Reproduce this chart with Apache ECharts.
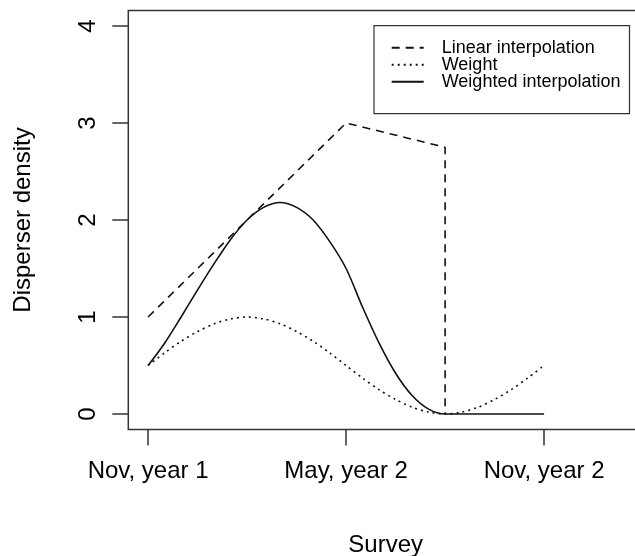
<!DOCTYPE html>
<html>
<head>
<meta charset="utf-8">
<script src="https://cdn.jsdelivr.net/npm/echarts@6/dist/echarts.min.js"></script>
<style>
html,body{margin:0;padding:0;background:#fff;}
#main{width:635px;height:556px;}
</style>
</head>
<body>
<div id="main"></div>
<script>
// x values are months since November of year 1
var tickMonths = [0, 6, 12];
var tickLabels = ['Nov, year 1', 'May, year 2', 'Nov, year 2'];
var yTicks = [0, 1, 2, 3, 4];

var linearX = [0, 6, 9, 9];
var linearY = [1, 3, 2.75, 0];

var curveX = [0, 0.5, 1, 1.5, 2, 2.5, 3, 3.5, 4, 4.5, 5, 5.5, 6, 6.5, 7, 7.5, 8, 8.5, 9, 9.5, 10, 10.5, 11, 11.5, 12];
var weightY = [0.5, 0.63, 0.75, 0.85, 0.93, 0.98, 1.0, 0.98, 0.93, 0.85, 0.75, 0.63, 0.5, 0.37, 0.25, 0.15, 0.07, 0.02, 0, 0.02, 0.07, 0.15, 0.25, 0.37, 0.5];
var weightedY = [0.5, 0.73, 1.0, 1.28, 1.55, 1.8, 2.0, 2.13, 2.18, 2.13, 2.0, 1.78, 1.5, 1.1, 0.73, 0.42, 0.19, 0.05, 0, 0, 0, 0, 0, 0, 0];

function pairs(xs, ys) { return xs.map(function (x, i) { return [x, ys[i]]; }); }

var FONT = "'Liberation Sans', Arial, sans-serif";
var chart = echarts.init(document.getElementById('main'), null, {renderer: 'canvas'});
chart.setOption({
  animation: false,
  backgroundColor: '#fff',
  grid: {
    show: true, left: 128.3, top: 10.5, width: 514.8, height: 419,
    outerBoundsMode: 'none', containLabel: false,
    borderColor: '#333', borderWidth: 1.5, backgroundColor: 'transparent'
  },
  legend: {
    orient: 'vertical', left: 374, top: 25.7,
    padding: [13, 9, 23, 16.7],
    borderColor: '#333', borderWidth: 1.2,
    itemWidth: 32, itemHeight: 14, itemGap: -1,
    itemStyle: {opacity: 0},
    textStyle: {fontFamily: FONT, fontSize: 18, color: '#000', padding: [0, 0, 0, 13]},
    data: ['Linear interpolation', 'Weight', 'Weighted interpolation']
  },
  xAxis: {
    type: 'value', min: -0.6, max: 15,
    name: 'Survey', nameLocation: 'middle', nameGap: 104,
    nameTextStyle: {fontFamily: FONT, fontSize: 24, color: '#000'},
    axisLine: {show: false, onZero: false},
    splitLine: {show: false},
    axisTick: {show: true, inside: false, length: 16, customValues: tickMonths, lineStyle: {color: '#333', width: 1.5}},
    axisLabel: {
      customValues: tickMonths, margin: 30,
      fontFamily: FONT, fontSize: 24, color: '#000',
      formatter: function (v) { var i = tickMonths.indexOf(v); return i >= 0 ? tickLabels[i] : ''; }
    }
  },
  yAxis: {
    type: 'value', min: -0.16, max: 4.16,
    name: 'Disperser density', nameLocation: 'middle', nameGap: 93,
    nameTextStyle: {fontFamily: FONT, fontSize: 24, color: '#000'},
    axisLine: {show: false, onZero: false},
    splitLine: {show: false},
    axisTick: {show: true, inside: false, length: 16, customValues: yTicks, lineStyle: {color: '#333', width: 1.5}},
    axisLabel: {
      customValues: yTicks, margin: 28, rotate: 90,
      fontFamily: FONT, fontSize: 24, color: '#000'
    }
  },
  series: [
    {
      name: 'Linear interpolation', type: 'line', data: pairs(linearX, linearY),
      symbol: 'none', lineStyle: {color: '#111', width: 1.6, type: [8, 6]}, itemStyle: {color: '#111'}
    },
    {
      name: 'Weight', type: 'line', data: pairs(curveX, weightY), smooth: 0.3,
      symbol: 'none', lineStyle: {color: '#111', width: 1.6, type: [2, 4]}, itemStyle: {color: '#111'}
    },
    {
      name: 'Weighted interpolation', type: 'line', data: pairs(curveX, weightedY), smooth: 0.3,
      symbol: 'none', lineStyle: {color: '#111', width: 1.6, type: 'solid'}, itemStyle: {color: '#111'}
    }
  ]
});
</script>
</body>
</html>
